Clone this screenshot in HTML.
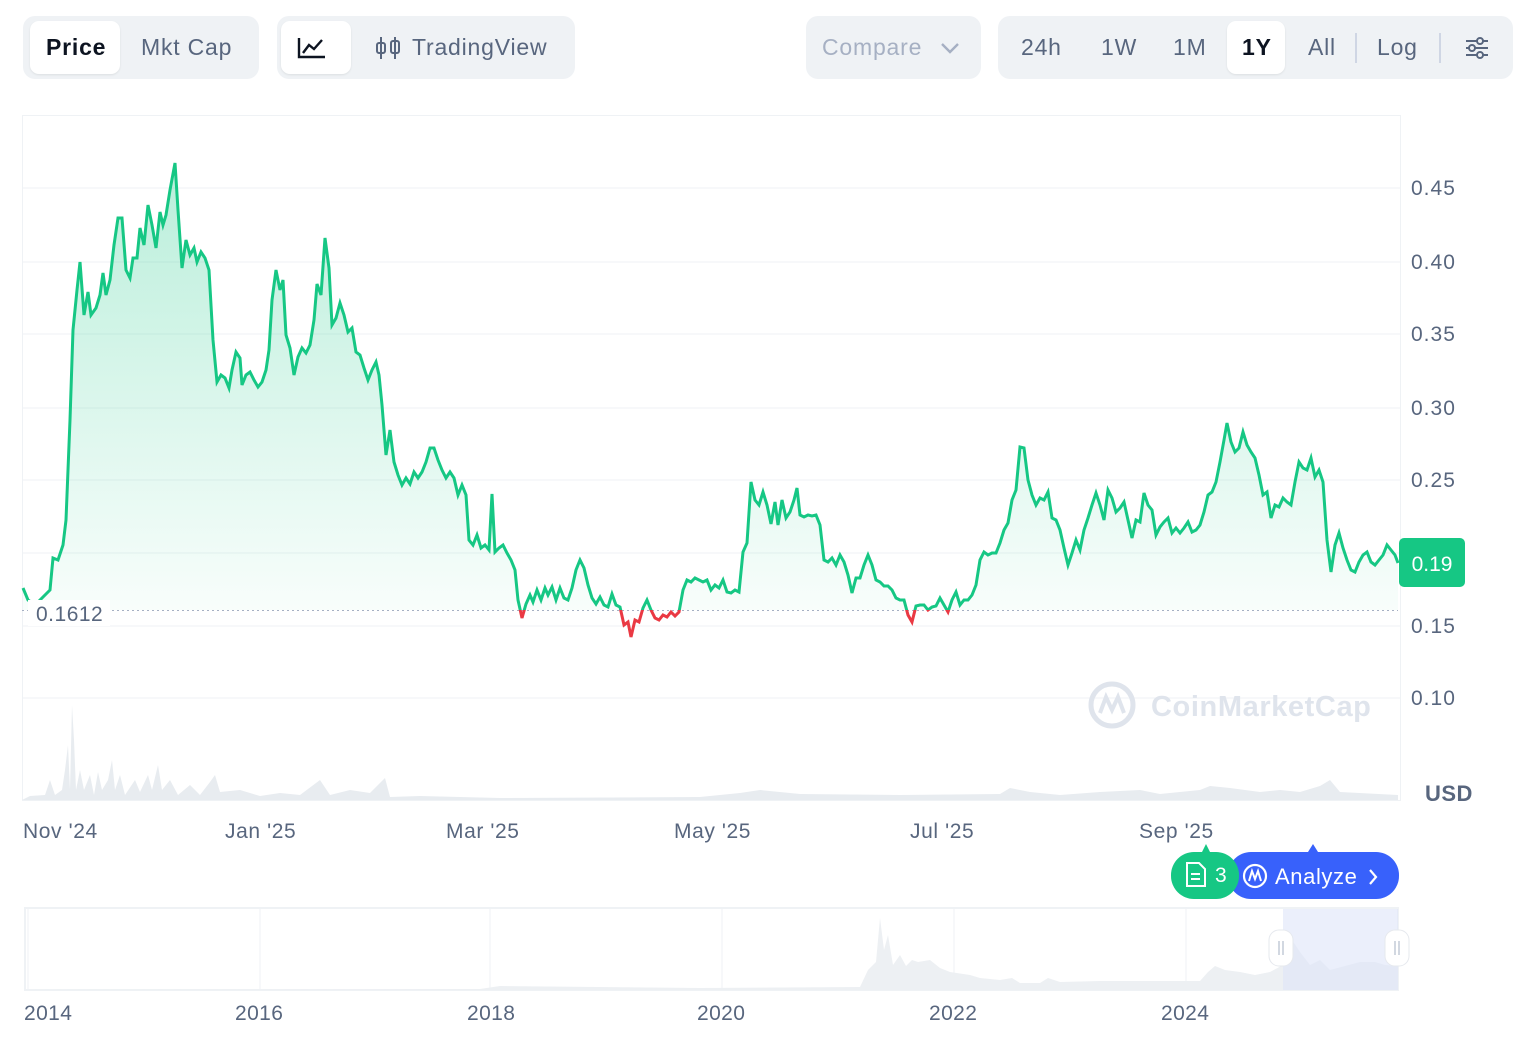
<!DOCTYPE html>
<html><head><meta charset="utf-8"><style>
body{margin:0;width:1534px;height:1050px;background:#fff;font-family:"Liberation Sans",sans-serif;position:relative;overflow:hidden;color:#58667e}
.g{position:absolute;background:#eff2f5;border-radius:12px;top:16px;height:63px}
.b{position:absolute;font-size:23px;top:0;line-height:63px;color:#58667e;letter-spacing:0.8px}
.w{position:absolute;background:#fff;border-radius:9px;top:5px;height:53px;box-shadow:0 1px 2px rgba(0,0,0,.08)}
.yl{position:absolute;left:1411px;font-size:21px;color:#58667e;letter-spacing:1px}
.xl{position:absolute;top:820px;font-size:21px;color:#58667e;letter-spacing:0.6px}
.nl{position:absolute;top:1002px;font-size:21px;color:#58667e;letter-spacing:0.4px}
</style></head><body>
<div class="g" style="left:23px;width:236px"><div class="w" style="left:7px;width:90px"></div><div class="b" style="left:23px;color:#0d1421;font-weight:bold">Price</div><div class="b" style="left:118px">Mkt Cap</div></div>
<div class="g" style="left:277px;width:298px"><div class="w" style="left:4px;width:70px"></div>
<svg style="position:absolute;left:20px;top:20px" width="30" height="24"><path d="M2 2V21H28M6 17L12 9L17 13L25 4" stroke="#0d1421" stroke-width="2.4" fill="none"/></svg>
<svg style="position:absolute;left:98px;top:19px" width="26" height="26"><path d="M6 2V24M20 2V24" stroke="#58667e" stroke-width="2"/><rect x="2" y="8" width="8" height="10" rx="2" fill="none" stroke="#58667e" stroke-width="2"/><rect x="16" y="6" width="8" height="12" rx="2" fill="none" stroke="#58667e" stroke-width="2"/></svg>
<div class="b" style="left:135px">TradingView</div></div>
<div class="g" style="left:806px;width:175px"><div class="b" style="left:16px;color:#a6b0c3">Compare</div><svg style="position:absolute;left:134px;top:25px" width="20" height="14"><path d="M2 3L10 11L18 3" stroke="#a6b0c3" stroke-width="2.4" fill="none"/></svg></div>
<div class="g" style="left:998px;width:515px"><div class="w" style="left:229px;width:58px"></div>
<div class="b" style="left:23px">24h</div><div class="b" style="left:103px">1W</div><div class="b" style="left:175px">1M</div><div class="b" style="left:244px;color:#0d1421;font-weight:bold">1Y</div><div class="b" style="left:310px">All</div>
<div style="position:absolute;left:357px;top:17px;width:2px;height:30px;background:#cfd6e4"></div><div class="b" style="left:379px">Log</div>
<div style="position:absolute;left:441px;top:17px;width:2px;height:30px;background:#cfd6e4"></div>
<svg style="position:absolute;left:466px;top:20px" width="26" height="24"><path d="M2 5H24M2 12H24M2 19H24" stroke="#58667e" stroke-width="2"/><circle cx="16" cy="5" r="3" fill="#eff2f5" stroke="#58667e" stroke-width="2"/><circle cx="8" cy="12" r="3" fill="#eff2f5" stroke="#58667e" stroke-width="2"/><circle cx="16" cy="19" r="3" fill="#eff2f5" stroke="#58667e" stroke-width="2"/></svg></div>

<svg style="position:absolute;left:0;top:0" width="1534" height="1050">
<defs><linearGradient id="gg" x1="0" y1="160" x2="0" y2="610" gradientUnits="userSpaceOnUse"><stop offset="0" stop-color="#16c784" stop-opacity=".3"/><stop offset="1" stop-color="#16c784" stop-opacity=".03"/></linearGradient>
<clipPath id="ab"><rect x="0" y="0" width="1534" height="610"/></clipPath><clipPath id="be"><rect x="0" y="610" width="1534" height="100"/></clipPath></defs>
<rect x="22.5" y="115.5" width="1378" height="685" fill="none" stroke="#eff2f5"/>
<g stroke="#eff2f5" stroke-width="1"><path d="M22 188H1400M22 262H1400M22 334H1400M22 408H1400M22 480H1400M22 553H1400M22 626H1400M22 698H1400"/></g>
<path d="M22 800L30 796L45 795L50 780L55 795L62 790L65 770L68 745L70 790L72 705L74 740L76 790L80 770L84 790L90 775L94 795L98 772L102 790L108 780L112 760L115 790L120 775L125 795L135 780L140 792L148 775L152 790L158 765L162 790L170 780L178 795L190 785L200 795L210 782L215 775L220 792L240 790L260 796L280 793L300 795L320 780L330 795L350 790L370 793L385 778L390 797L420 796L500 798L700 797L740 793L760 790L800 794L900 795L1000 794L1010 788L1020 790L1030 792L1060 795L1100 792L1140 790L1160 794L1200 790L1210 786L1230 788L1260 792L1280 790L1300 792L1320 786L1330 780L1340 792L1398 795L1398 800Z" fill="#e8ecf0"/>
<polyline id="pl" fill="none" points="23,588 28,600 35,605 50,590 53,558 58,560 63,545 66,520 70,420 73,330 77,290 80,262 84,315 88,292 91,315 96,308 100,295 103,273 106,295 110,280 114,245 118,218 122,218 126,270 130,278 133,258 137,258 140,228 144,245 148,205 152,225 156,248 160,212 163,225 166,215 170,190 175,163 178,210 182,268 186,240 190,255 194,248 197,262 201,252 205,258 209,270 213,340 217,382 221,375 225,378 229,388 232,370 236,352 240,358 242,385 246,375 250,372 254,380 258,387 262,382 266,370 269,350 272,300 276,270 280,290 283,280 286,335 290,348 294,375 298,357 302,348 306,353 310,345 314,320 317,284 321,295 325,238 329,268 332,325 336,318 340,303 344,315 348,332 352,328 356,352 360,355 364,368 368,380 372,370 376,362 379,375 382,405 386,455 390,430 394,462 398,475 402,485 406,478 410,484 414,472 418,478 422,472 426,462 430,448 434,448 438,460 442,470 446,478 450,472 454,478 458,495 462,485 466,495 469,540 473,545 477,535 481,548 485,545 489,550 492,494 495,552 499,548 503,545 507,553 511,560 515,570 518,600 522,618 526,604 530,595 533,602 537,590 541,600 545,588 548,595 552,587 556,600 560,588 564,598 568,600 572,588 576,570 580,560 584,568 588,585 592,598 596,604 600,597 604,605 608,607 612,594 616,605 620,607 624,625 628,622 631,637 635,620 639,622 643,608 647,600 651,610 655,618 659,620 663,615 667,617 671,612 675,616 679,612 683,590 687,580 691,582 695,578 699,580 703,582 707,580 711,590 715,585 719,588 723,580 727,592 731,593 735,590 739,592 743,552 747,543 751,482 755,500 759,505 763,492 767,505 771,524 775,502 778,525 782,500 786,518 790,512 794,500 797,488 800,515 804,517 808,515 812,516 816,515 820,525 824,560 828,562 832,558 836,565 840,555 844,562 848,575 852,593 856,578 860,578 864,565 868,555 872,565 876,580 880,582 884,586 888,586 892,590 896,598 900,600 904,600 908,615 912,622 916,606 920,605 924,605 928,610 932,607 936,606 940,598 944,605 948,612 952,600 956,592 960,605 964,600 968,600 972,595 976,585 980,560 984,552 988,555 992,553 996,553 1000,543 1004,530 1008,523 1012,500 1016,490 1020,447 1024,448 1028,480 1032,495 1036,505 1040,498 1044,500 1048,492 1052,518 1056,520 1060,530 1064,548 1068,565 1072,553 1076,540 1080,550 1084,530 1088,518 1092,505 1096,493 1100,505 1104,520 1108,490 1112,498 1116,512 1120,508 1124,502 1128,520 1132,538 1136,520 1140,522 1144,493 1148,505 1152,510 1156,535 1160,527 1164,522 1168,518 1172,533 1176,528 1180,533 1184,528 1188,522 1192,532 1196,530 1200,525 1204,512 1208,495 1212,492 1216,482 1220,462 1224,440 1227,423 1231,442 1235,452 1239,448 1243,432 1247,445 1251,452 1255,458 1259,475 1263,495 1267,492 1271,518 1275,505 1279,507 1283,498 1287,502 1291,505 1295,482 1299,462 1303,468 1307,470 1311,458 1315,477 1319,470 1323,482 1327,540 1331,572 1335,545 1339,533 1343,548 1347,560 1351,570 1355,572 1359,562 1363,555 1367,552 1371,562 1375,565 1379,560 1383,555 1387,545 1391,550 1395,555 1398,563"/>
<g clip-path="url(#ab)"><polygon id="ar" fill="url(#gg)" points=""/></g>
<line x1="22" y1="610.5" x2="1398" y2="610.5" stroke="#a6b0c3" stroke-dasharray="2,3"/>
<g clip-path="url(#ab)"><use href="#pl" stroke="#16c784" stroke-width="3"/></g>
<g clip-path="url(#be)"><use href="#pl" stroke="#ea3943" stroke-width="3"/></g>
<rect x="28" y="600" width="82" height="26" fill="#fff"/>
<text x="36" y="621" font-size="21" fill="#58667e" font-family="Liberation Sans" letter-spacing="0.5">0.1612</text>
<circle cx="1112" cy="705" r="21" fill="none" stroke="#dfe4ec" stroke-width="5"/>
<path d="M1100 713L1106 697L1112 710L1118 697L1124 713" stroke="#dfe4ec" stroke-width="4" fill="none"/>
<text x="1151" y="716" font-size="29" font-weight="bold" fill="#dfe4ec" font-family="Liberation Sans" letter-spacing="0.6">CoinMarketCap</text>
<rect x="1399" y="538" width="66" height="49" rx="5" fill="#16c784"/>
<text x="1432" y="571" font-size="21" fill="#fff" text-anchor="middle" font-family="Liberation Sans">0.19</text>
<rect x="25" y="908" width="1373" height="82" fill="#fff" stroke="#eff2f5" stroke-width="2"/>
<path d="M28 908V990M260 908V990M490 908V990M722 908V990M954 908V990M1186 908V990" stroke="#eff2f5"/>
<path d="M25 990L480 989L500 986L700 988L860 987L868 970L876 962L880 918L884 950L888 935L893 965L900 955L906 966L912 960L918 962L930 960L940 968L950 972L970 975L980 978L1000 980L1012 978L1020 983L1040 983L1048 978L1060 982L1100 981L1200 981L1208 972L1215 966L1225 970L1240 972L1255 975L1270 972L1283 965L1290 937L1300 952L1310 965L1320 960L1330 970L1345 966L1360 962L1375 962L1385 965L1398 966L1398 990Z" fill="#edf0f3"/>
<rect x="1283" y="909" width="115" height="81" fill="#dde5f8" opacity=".6"/>
<rect x="1269" y="930" width="24" height="36" rx="10" fill="#fff" stroke="#e6e9ee"/><path d="M1279 941V955M1283 941V955" stroke="#a6b0c3"/>
<rect x="1385" y="930" width="24" height="36" rx="10" fill="#fff" stroke="#e6e9ee"/><path d="M1395 941V955M1399 941V955" stroke="#a6b0c3"/>
<path d="M1308 852L1313 844L1318 852Z" fill="#3861fb"/>
<rect x="1228" y="852" width="171" height="47" rx="23" fill="#3861fb"/>
<path d="M1202 852L1206 844L1210 852Z" fill="#16c784"/>
<rect x="1171" y="852" width="68" height="47" rx="23" fill="#16c784"/>
<path d="M1187 863H1199L1205 869V886H1187Z" fill="none" stroke="#fff" stroke-width="2"/><path d="M1191 874H1200M1191 879H1200" stroke="#fff" stroke-width="2"/>
<text x="1215" y="882" font-size="21" fill="#fff" font-family="Liberation Sans">3</text>
<circle cx="1255" cy="876" r="11" fill="none" stroke="#fff" stroke-width="2.2"/><path d="M1249 881L1252 871L1255 879L1258 871L1261 881" fill="none" stroke="#fff" stroke-width="2"/>
<text x="1275" y="884" font-size="22" fill="#fff" font-family="Liberation Sans" letter-spacing="0.6">Analyze</text>
<path d="M1370 870L1376 877L1370 884" fill="none" stroke="#fff" stroke-width="2.2"/>
</svg>
<div class="yl" style="top:177px">0.45</div><div class="yl" style="top:251px">0.40</div><div class="yl" style="top:323px">0.35</div><div class="yl" style="top:397px">0.30</div><div class="yl" style="top:469px">0.25</div><div class="yl" style="top:615px">0.15</div><div class="yl" style="top:687px">0.10</div>
<div style="position:absolute;left:1425px;top:781px;font-size:22px;font-weight:bold;color:#58667e;letter-spacing:0.5px">USD</div>
<div class="xl" style="left:23px">Nov '24</div><div class="xl" style="left:225px">Jan '25</div><div class="xl" style="left:446px">Mar '25</div><div class="xl" style="left:674px">May '25</div><div class="xl" style="left:910px">Jul '25</div><div class="xl" style="left:1139px">Sep '25</div>
<div class="nl" style="left:24px">2014</div><div class="nl" style="left:235px">2016</div><div class="nl" style="left:467px">2018</div><div class="nl" style="left:697px">2020</div><div class="nl" style="left:929px">2022</div><div class="nl" style="left:1161px">2024</div>
<script>
var p=document.getElementById('pl').getAttribute('points');
document.getElementById('ar').setAttribute('points','23,610 '+p+' 1398,610');
</script>
</body></html>
